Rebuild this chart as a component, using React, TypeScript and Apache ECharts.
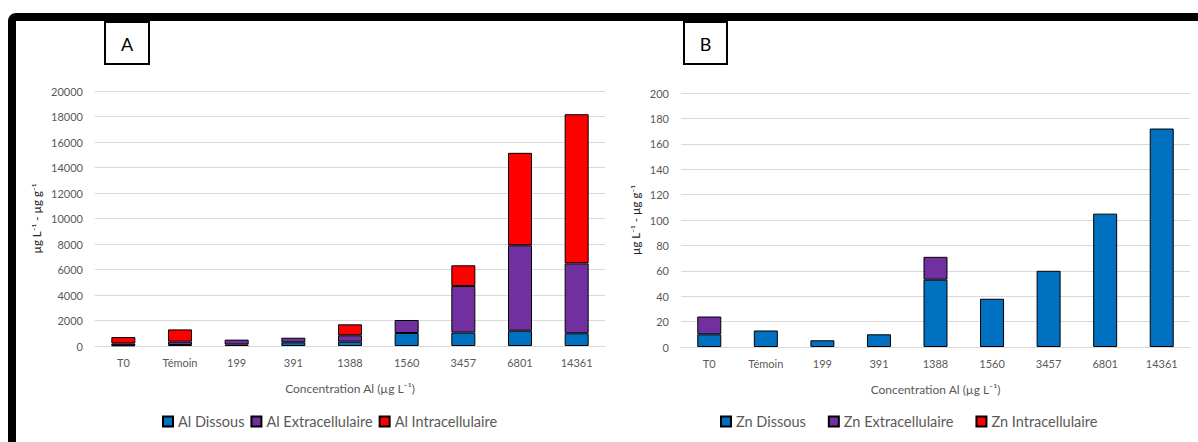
import React, { useEffect, useRef } from "react";
import * as echarts from "echarts";

const categories = ["T0", "Témoin", "199", "391", "1388", "1560", "3457", "6801", "14361"];

const alDissous = [50, 80, 120, 290, 340, 1020, 1050, 1200, 1000];
const alExtra = [150, 260, 380, 360, 500, 1020, 3650, 6700, 5480];
const alIntra = [500, 960, 0, 0, 860, 0, 1630, 7250, 11700];

const znDissous = [10, 13, 5.3, 10, 53, 38, 60, 105, 172];
const znExtra = [14, 0, 0, 0, 18, 0, 0, 0, 0];
const znIntra = [0, 0, 0, 0, 0, 0, 0, 0, 0];

const alTicks = { min: 0, max: 20000, interval: 2000 };
const znTicks = { min: 0, max: 200, interval: 20 };

const BLUE = "#0070C0";
const PURPLE = "#7030A0";
const RED = "#FF0000";
const FONT = "Lato, 'Open Sans', sans-serif";
const GRAY = "#595959";

export default function App() {
  const ref = useRef<HTMLDivElement>(null);
  useEffect(() => {
    if (!ref.current) return;
    const chart = echarts.init(ref.current, undefined, { renderer: "svg" });
    const xAxisBase = (idx: number) => ({
      type: "category",
      gridIndex: idx,
      data: categories,
      axisTick: { show: false },
      axisLine: { lineStyle: { color: "#d9d9d9", width: 1 } },
      axisLabel: { color: GRAY, fontSize: 11, fontFamily: FONT, margin: 11 },
      name: "Concentration Al (µg L⁻¹)",
      nameLocation: "middle",
      nameGap: 36,
      nameTextStyle: { color: GRAY, fontSize: 12, fontFamily: FONT },
    });
    const yAxisBase = (idx: number, t: any) => ({
      type: "value",
      gridIndex: idx,
      min: t.min,
      max: t.max,
      interval: t.interval,
      axisLine: { show: false },
      axisTick: { show: false },
      splitLine: { lineStyle: { color: "#d9d9d9", width: 1 } },
      axisLabel: {
        color: GRAY,
        fontSize: 11,
        fontFamily: FONT,
        margin: 12,
        formatter: (v: number) => String(v),
      },
      name: "µg L⁻¹ - µg g⁻¹",
      nameLocation: "middle",
      nameRotate: 90,
      nameGap: idx === 0 ? 53 : 40,
      nameTextStyle: { color: "#262626", fontSize: 11.5, fontFamily: FONT },
    });
    const bar = (name: string, data: number[], color: string, idx: number) => ({
      name,
      type: "bar",
      stack: idx === 0 ? "al" : "zn",
      xAxisIndex: idx,
      yAxisIndex: idx,
      data: data.map((v) => (v === 0 ? null : v)),
      barWidth: 24,
      itemStyle: { color, borderColor: "#000", borderWidth: 1 },
    });
    const legendBase = {
      icon: "rect",
      itemWidth: 10,
      itemHeight: 10,
      top: 414,
      padding: 0,
      textStyle: { color: GRAY, fontSize: 14.5, fontFamily: FONT },
    };
    chart.setOption({
      animation: false,
      backgroundColor: "#fff",
      grid: [
        { left: 95, top: 91, width: 510, height: 255 },
        { left: 681, top: 93, width: 509, height: 254 },
      ],
      xAxis: [xAxisBase(0), xAxisBase(1)],
      yAxis: [yAxisBase(0, alTicks), yAxisBase(1, znTicks)],
      legend: [
        {
          ...legendBase,
          left: 162,
          itemGap: 6,
          data: ["Al Dissous", "Al Extracellulaire", "Al Intracellulaire"],
        },
        {
          ...legendBase,
          left: 720,
          itemGap: 22,
          data: ["Zn Dissous", "Zn Extracellulaire", "Zn Intracellulaire"],
        },
      ],
      series: [
        bar("Al Dissous", alDissous, BLUE, 0),
        bar("Al Extracellulaire", alExtra, PURPLE, 0),
        bar("Al Intracellulaire", alIntra, RED, 0),
        bar("Zn Dissous", znDissous, BLUE, 1),
        bar("Zn Extracellulaire", znExtra, PURPLE, 1),
        bar("Zn Intracellulaire", znIntra, RED, 1),
      ],
      graphic: [
        {
          type: "rect",
          shape: { x: 12, y: 17, width: 1400, height: 700, r: 4 },
          style: { fill: "none", stroke: "#000", lineWidth: 8 },
          silent: true,
        },
        {
          type: "rect",
          shape: { x: 105, y: 22, width: 44, height: 42 },
          style: { fill: "#fff", stroke: "#000", lineWidth: 2 },
        },
        {
          type: "text",
          x: 127,
          y: 44,
          style: {
            text: "A",
            fontSize: 18,
            fontFamily: FONT,
            fill: "#000",
            align: "center",
            verticalAlign: "middle",
          },
        },
        {
          type: "rect",
          shape: { x: 684, y: 22, width: 43, height: 42 },
          style: { fill: "#fff", stroke: "#000", lineWidth: 2 },
        },
        {
          type: "text",
          x: 705.5,
          y: 44,
          style: {
            text: "B",
            fontSize: 18,
            fontFamily: FONT,
            fill: "#000",
            align: "center",
            verticalAlign: "middle",
          },
        },
      ],
    });
    return () => chart.dispose();
  }, []);
  return (
    <div
      ref={ref}
      style={{ position: "fixed", left: 0, top: 0, width: 1198, height: 442 }}
    />
  );
}
